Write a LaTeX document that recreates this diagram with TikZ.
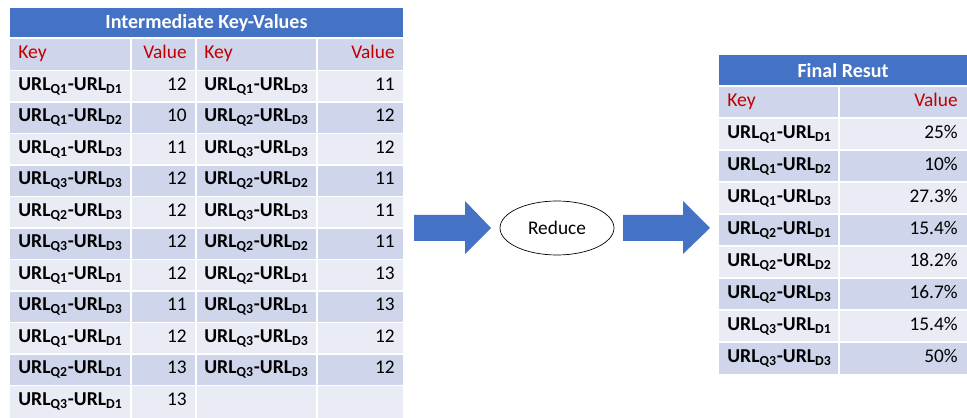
\documentclass[tikz,border=0pt]{standalone}
\usepackage{fontspec}
\setmainfont{Carlito}
\usetikzlibrary{calc,shapes}

\definecolor{hdblue}{HTML}{4472C4}
\definecolor{rowdark}{HTML}{CFD5EA}
\definecolor{rowlight}{HTML}{E9EBF5}
\definecolor{keyred}{HTML}{C00000}
\newcommand{\urlpair}[2]{\textbf{URL\textsubscript{Q#1}-URL\textsubscript{D#2}}}

\tikzset{
  keytxt/.style={anchor=mid west,inner sep=0pt,font=\fontsize{11.2}{13}\selectfont},
  valtxt/.style={anchor=mid east,inner sep=0pt,font=\fontsize{11}{13}\selectfont},
  headtxt/.style={inner sep=0pt,text=white,font=\fontsize{11.4}{13}\selectfont\bfseries},
  gridline/.style={white,line width=0.035cm}
}

\begin{document}
\begin{tikzpicture}[x=0.02cm,y=-0.02cm]
  \useasboundingbox (0,0) rectangle (967,418);

  % left table
  \fill[hdblue] (10,8) rectangle (403,38);
  \node[headtxt] (ltitle) at (206.5,23) {Intermediate Key-Values};
  \fill[rowdark] (10,38) rectangle (403,70.5);
  \node[keytxt,text=keyred] (lkh1) at (18,54.5) {Key};
  \node[valtxt,text=keyred] (lvh1) at (187,54.5) {Value};
  \node[keytxt,text=keyred] (lkh2) at (204,54.5) {Key};
  \node[valtxt,text=keyred] (lvh2) at (395,54.5) {Value};
  \foreach \qa/\da/\va/\qb/\db/\vb [count=\i] in
    {1/1/12/1/3/11, 1/2/10/2/3/12, 1/3/11/3/3/12, 3/3/12/2/2/11,
     2/3/12/3/3/11, 3/3/12/2/2/11, 1/1/12/2/1/13, 1/3/11/3/1/13,
     1/1/12/3/3/12, 2/1/13/3/3/12} {
    \ifodd\i\def\rc{rowlight}\else\def\rc{rowdark}\fi
    \fill[\rc] (10,39+31.5*\i) rectangle (403,39+31.5*\i+31.5);
    \node[keytxt] (lka\i) at (18,39+31.5*\i+15.75) {\urlpair{\qa}{\da}};
    \node[valtxt] (lva\i) at (187,39+31.5*\i+15.75) {\va};
    \node[keytxt] (lkb\i) at (204,39+31.5*\i+15.75) {\urlpair{\qb}{\db}};
    \node[valtxt] (lvb\i) at (395,39+31.5*\i+15.75) {\vb};
  }
  \fill[rowlight] (10,385.5) rectangle (403,418);
  \node[keytxt] (lka11) at (18,401.25) {\urlpair{3}{1}};
  \node[valtxt] (lva11) at (187,401.25) {13};
  \foreach \y in {38,70.5,102,133.5,165,196.5,228,259.5,291,322.5,354,385.5}
    \draw[gridline] (10,\y) -- (403,\y);
  \foreach \x in {131,196,317}
    \draw[gridline] (\x,38) -- (\x,418);

  % reduce step
  \node[draw,ellipse,thin,minimum width=2.28cm,minimum height=1.08cm,
        font=\fontsize{11}{13}\selectfont] (red) at (557,228) {Reduce};
  \fill[hdblue] (414,215) -- (465,215) -- (465,201) -- (491,228)
    -- (465,254) -- (465,241) -- (414,241) -- cycle;
  \fill[hdblue] (623,215) -- (683,215) -- (683,201) -- (710,228)
    -- (683,254) -- (683,241) -- (623,241) -- cycle;

  % right table
  \fill[hdblue] (719,55) rectangle (967,86);
  \node[headtxt] (rtitle) at (843,70.5) {Final Resut};
  \fill[rowdark] (719,86) rectangle (967,118);
  \node[keytxt,text=keyred] (rkh) at (727,102) {Key};
  \node[valtxt,text=keyred] (rvh) at (958,102) {Value};
  \foreach \q/\d/\v [count=\j] in
    {1/1/25\%, 1/2/10\%, 1/3/27.3\%, 2/1/15.4\%,
     2/2/18.2\%, 2/3/16.7\%, 3/1/15.4\%, 3/3/50\%} {
    \ifodd\j\def\rc{rowlight}\else\def\rc{rowdark}\fi
    \fill[\rc] (719,86+32*\j) rectangle (967,118+32*\j);
    \node[keytxt] (rk\j) at (727,102+32*\j) {\urlpair{\q}{\d}};
    \node[valtxt] (rv\j) at (958,102+32*\j) {\v};
  }
  \foreach \y in {86,118,150,182,214,246,278,310,342}
    \draw[gridline] (719,\y) -- (967,\y);
  \draw[gridline] (839,86) -- (839,374);
\end{tikzpicture}
\end{document}
